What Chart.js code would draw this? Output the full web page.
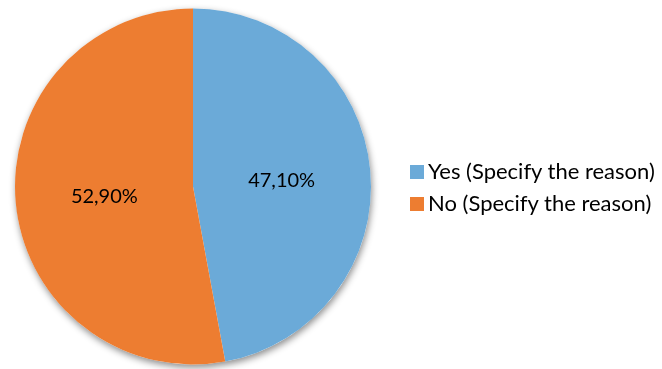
<!DOCTYPE html>
<html>
<head>
<meta charset="utf-8">
<script src="https://cdn.jsdelivr.net/npm/chart.js@4"></script>
<style>
  html, body { margin: 0; padding: 0; background: #fff; }
  #wrap { position: relative; width: 662px; height: 369px; }
  #legend { position: absolute; left: 410px; top: 155px; font-family: Lato, "Open Sans", sans-serif; font-size: 22px; color: #000; }
  #legend div { position: relative; height: 32px; line-height: 32px; padding-left: 18px; white-space: nowrap; }
  #legend span.box { position: absolute; left: 0; top: 10px; width: 14px; height: 14px; }
</style>
</head>
<body>
<div id="wrap">
  <canvas id="chart" width="662" height="369"></canvas>
  <div id="legend"></div>
</div>
<script>
// data
let labels = ["Yes (Specify the reason)", "No (Specify the reason)"];
let shares = [47.10, 52.90];
let colors = ["#6BAAD8", "#ED7D31"];

// soft shadow under the pie
let pieShadow = {
  id: 'pieShadow',
  beforeDatasetsDraw(chart) {
    let arc = chart.getDatasetMeta(0).data[0];
    if (!arc) return;
    let ctx = chart.ctx;
    ctx.save();
    ctx.shadowColor = 'rgba(0,0,0,0.45)';
    ctx.shadowBlur = 7;
    ctx.shadowOffsetX = 1;
    ctx.shadowOffsetY = 3;
    ctx.fillStyle = '#fff';
    ctx.beginPath();
    ctx.arc(arc.x, arc.y, arc.outerRadius, 0, Math.PI * 2);
    ctx.fill();
    ctx.restore();
  }
}

// percent labels inside the slices
let sliceLabels = {
  id: 'sliceLabels',
  afterDatasetsDraw(chart) {
    let ctx = chart.ctx;
    ctx.save();
    ctx.font = '20px Lato, "Open Sans", sans-serif';
    ctx.fillStyle = '#000';
    ctx.textAlign = 'center';
    ctx.textBaseline = 'middle';
    chart.getDatasetMeta(0).data.forEach((arc, i) => {
      let p = arc.tooltipPosition();
      ctx.fillText(shares[i].toFixed(2).replace('.', ',') + '%', p.x, p.y + 2);
    });
    ctx.restore();
  }
}

new Chart(document.getElementById('chart'), {
  type: 'pie',
  data: {
    labels: labels,
    datasets: [{
      data: shares,
      backgroundColor: colors,
      borderWidth: 0
    }]
  },
  options: {
    responsive: false,
    animation: false,
    layout: { padding: { left: 15, top: 8, right: 291, bottom: 4 } },
    plugins: {
      legend: { display: false },
      tooltip: { enabled: false }
    }
  },
  plugins: [pieShadow, sliceLabels]
});

// legend as text
let legend = document.getElementById('legend');
labels.forEach((name, i) => {
  let row = document.createElement('div');
  row.innerHTML = '<span class="box" style="background:' + colors[i] + '"></span>' + name;
  legend.appendChild(row);
});
</script>
</body>
</html>
